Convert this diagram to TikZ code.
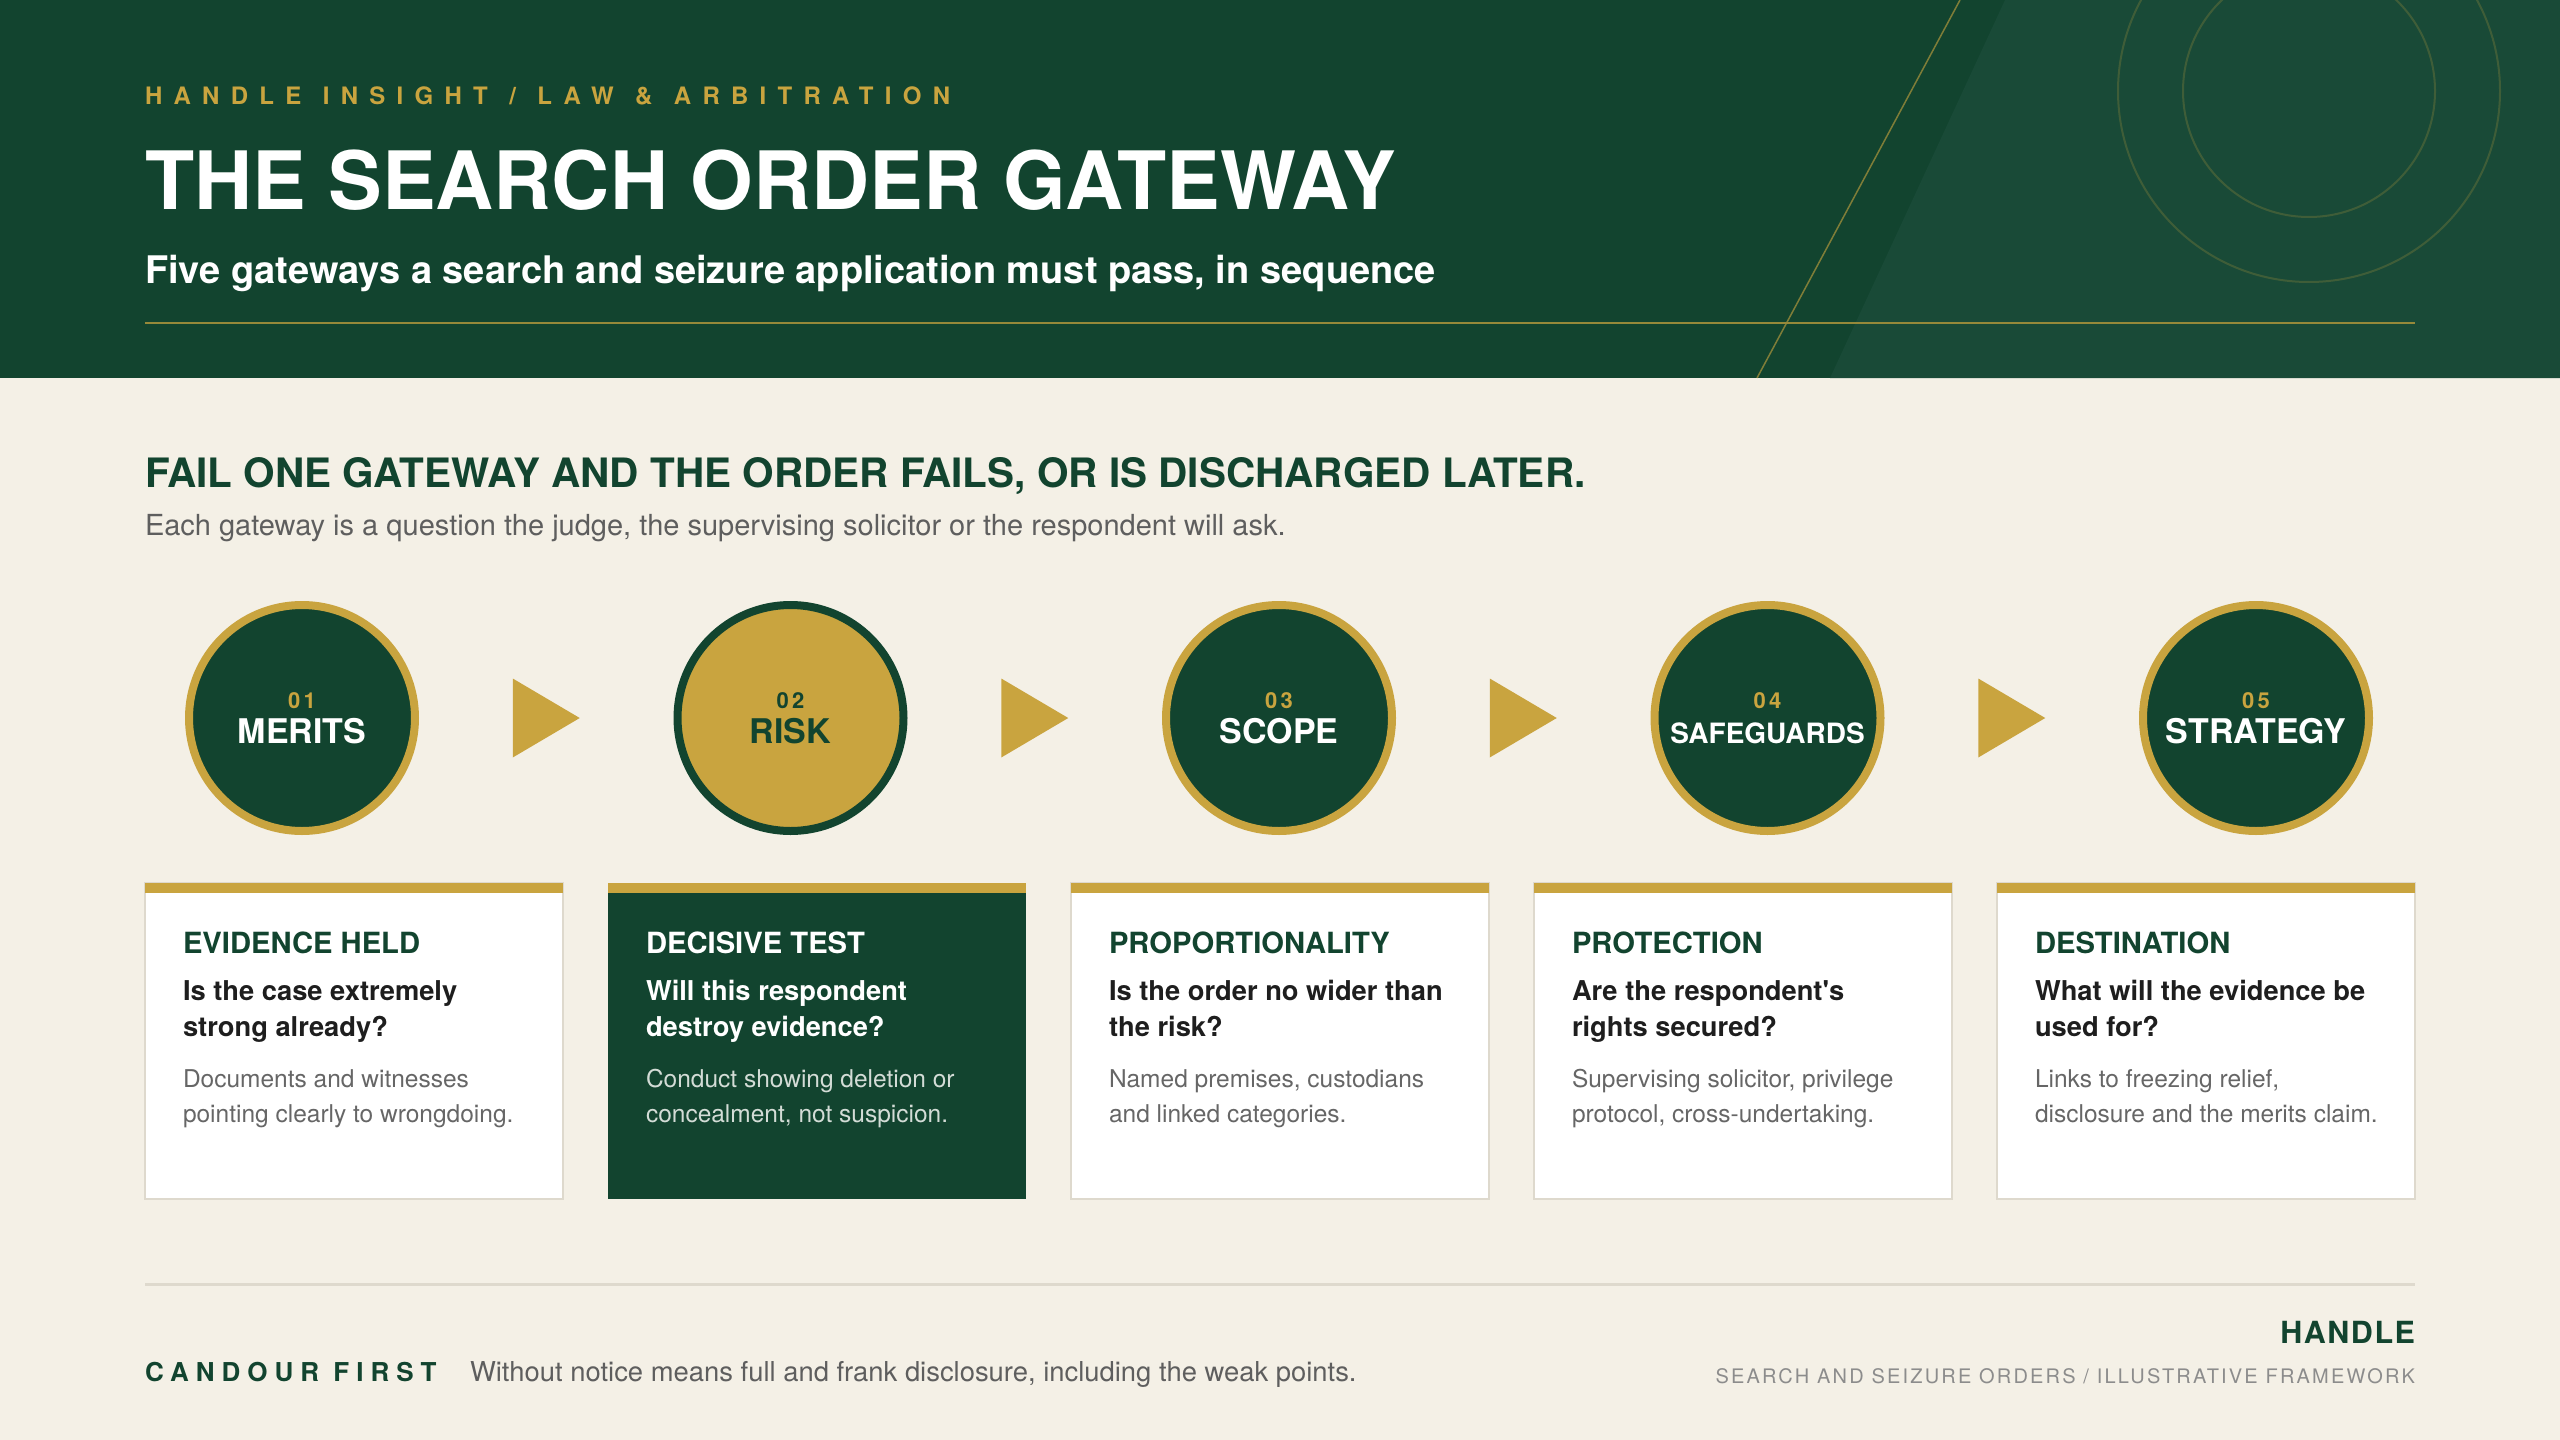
\documentclass[tikz,border=0pt]{standalone}
\usepackage{fontspec}
\setmainfont{TeX Gyre Heros}
\usetikzlibrary{calc}
\definecolor{hdr}{HTML}{12442F}
\definecolor{hdrB}{HTML}{194A37}
\definecolor{gold}{HTML}{C9A43F}
\definecolor{cream}{HTML}{F4F0E6}
\definecolor{gborder}{HTML}{DED9CD}
\definecolor{ink}{HTML}{1E1E1E}
\definecolor{muted}{HTML}{666666}
\definecolor{greyB}{HTML}{5E5E5E}
\definecolor{greyC}{HTML}{8C8C8C}
\definecolor{paleg}{HTML}{D3DCD6}
\newcommand\fs[2]{\fontsize{#1}{#2}\selectfont}
\newcommand\sq{\XeTeXglyph\XeTeXcharglyph"0027\relax}
\newcommand\tsp{\ \hspace{3.5pt}}
\tikzset{
  txt/.style={inner sep=0pt, outer sep=0pt},
  tagtext/.style={txt, anchor=base west, text=gold, font=\fs{24}{29}\bfseries\addfontfeatures{LetterSpace=47}},
  titletext/.style={txt, anchor=base west, text=white, font=\fs{80.5}{92}\bfseries},
  subtext/.style={txt, anchor=base west, text=white, font=\fs{38}{44}\bfseries},
  headtext/.style={txt, anchor=base west, text=hdr, font=\fs{40.5}{46}\bfseries},
  leadtext/.style={txt, anchor=base west, text=greyB, font=\fs{29}{34}},
  gateD/.style={circle, minimum size=226, fill=hdr, draw=gold, line width=8, outer sep=0},
  gateG/.style={circle, minimum size=226, fill=gold, draw=hdr, line width=8, outer sep=0},
  numD/.style={txt, anchor=base, text=gold, font=\fs{22}{26}\bfseries\addfontfeatures{LetterSpace=15}},
  numG/.style={txt, anchor=base, text=hdr, font=\fs{22}{26}\bfseries\addfontfeatures{LetterSpace=15}},
  nameD/.style={txt, anchor=base, text=white, font=\fs{34}{40}\bfseries},
  nameG/.style={txt, anchor=base, text=hdr, font=\fs{34}{40}\bfseries},
  cardL/.style={rectangle, anchor=north west, minimum width=418, minimum height=316, fill=white, draw=gborder, line width=2, inner sep=0, outer sep=0},
  cardD/.style={rectangle, anchor=north west, minimum width=418, minimum height=316, fill=hdr, inner sep=0, outer sep=0},
  ctitleL/.style={txt, anchor=base west, text=hdr, font=\fs{29.2}{34}\bfseries},
  ctitleD/.style={txt, anchor=base west, text=white, font=\fs{29.2}{34}\bfseries},
  cqL/.style={txt, anchor=base west, text=ink, font=\fs{27.3}{32}\bfseries},
  cqD/.style={txt, anchor=base west, text=white, font=\fs{27.3}{32}\bfseries},
  cdL/.style={txt, anchor=base west, text=muted, font=\fs{24.5}{29}},
  cdD/.style={txt, anchor=base west, text=paleg, font=\fs{24.5}{29}},
  candour/.style={txt, anchor=base west, text=hdr, font=\fs{26}{30}\bfseries\addfontfeatures{LetterSpace=27}},
  foottext/.style={txt, anchor=base west, text=greyB, font=\fs{27.4}{32}},
  brand/.style={txt, anchor=base east, text=hdr, font=\fs{30.5}{36}\bfseries\addfontfeatures{LetterSpace=5}},
  brandsub/.style={txt, anchor=base east, text=greyC, font=\fs{20}{24}\addfontfeatures{LetterSpace=11}},
  arrowtip/.style={fill=gold}
}
\newcommand\gatecircle[5]{%
  \node[gate#3] (c#1) at (#2,718) {};
  \node[num#3] (c#1n) at (#2,708) {#4};
  \node[name#3] (c#1m) at (#2,743) {#5};
}
\newcommand\gatecard[8]{%
  \node[card#3] (k#1) at (#2,883) {};
  \fill[gold] (k#1.north west) rectangle ++(418,10);
  \node[ctitle#3] (k#1t) at ([shift={(38,70)}]k#1.north west) {#4};
  \node[cq#3] (k#1q) at ([shift={(38,117)}]k#1.north west) {#5};
  \node[cq#3] (k#1r) at ([shift={(38,153)}]k#1.north west) {#6};
  \node[cd#3] (k#1d) at ([shift={(38,204)}]k#1.north west) {#7};
  \node[cd#3] (k#1e) at ([shift={(38,239)}]k#1.north west) {#8};
}
\begin{document}
\begin{tikzpicture}[x=1pt,y=-1pt]
\useasboundingbox (0,0) rectangle (2560,1440);
\fill[cream] (0,0) rectangle (2560,1440);
% header
\fill[hdr] (0,0) rectangle (2560,378);
\begin{scope}
  \clip (0,0) rectangle (2560,378);
  \fill[hdrB] (2005,0) -- (1830,378) -- (2560,378) -- (2560,0) -- cycle;
  \draw[gold, opacity=0.6, line width=1.5] (1960,0) -- (1757,378);
  \draw[gold, opacity=0.22, line width=2] (2309,91) circle (126);
  \draw[gold, opacity=0.22, line width=2] (2309,91) circle (191);
\end{scope}
\draw[gold!72!hdr, line width=2.5] (145,323) -- (2415,323);
\node[tagtext] (tag) at (145,104) {HANDLE\tsp INSIGHT\tsp /\tsp LAW\tsp \&\tsp ARBITRATION};
\node[titletext] (title) at (145,209) {THE SEARCH ORDER GATEWAY};
\node[subtext] (subtitle) at (145,283) {Five gateways a search and seizure application must pass, in sequence};
% section heading
\node[headtext] (head) at (145,487) {FAIL ONE GATEWAY AND THE ORDER FAILS, OR IS DISCHARGED LATER.};
\node[leadtext] (lead) at (145,535) {Each gateway is a question the judge, the supervising solicitor or the respondent will ask.};
% gateways
\gatecircle{1}{302}{D}{01}{MERITS}
\gatecircle{2}{790.5}{G}{02}{RISK}
\gatecircle{3}{1279}{D}{03}{SCOPE}
\gatecircle{4}{1767.5}{D}{04}{\fs{28}{32}SAFEGUARDS}
\gatecircle{5}{2256}{D}{05}{STRATEGY}
\foreach \a/\b in {1/2,2/3,3/4,4/5}{
  \fill[arrowtip] ($(c\a)!0.5!(c\b)+(-33.5,-39.5)$) -- ++(67,39.5) -- ++(-67,39.5) -- cycle;
}
% cards
\gatecard{1}{145}{L}{EVIDENCE HELD}{Is the case extremely}{strong already?}{Documents and witnesses}{pointing clearly to wrongdoing.}
\gatecard{2}{608}{D}{DECISIVE TEST}{Will this respondent}{destroy evidence?}{Conduct showing deletion or}{concealment, not suspicion.}
\gatecard{3}{1071}{L}{PROPORTIONALITY}{Is the order no wider than}{the risk?}{Named premises, custodians}{and linked categories.}
\gatecard{4}{1534}{L}{PROTECTION}{Are the respondent\sq s}{rights secured?}{Supervising solicitor, privilege}{protocol, cross-undertaking.}
\gatecard{5}{1997}{L}{DESTINATION}{What will the evidence be}{used for?}{Links to freezing relief,}{disclosure and the merits claim.}
% footer
\draw[gborder, line width=3] (145,1284) -- (2415,1284);
\node[candour] (cand) at (145,1381) {CANDOUR FIRST};
\node[foottext] (foot) at (470,1381) {Without notice means full and frank disclosure, including the weak points.};
\node[brand] (brand) at (2415,1343) {HANDLE};
\node[brandsub] (brandsub) at (2415,1383) {SEARCH AND SEIZURE ORDERS / ILLUSTRATIVE FRAMEWORK};
\end{tikzpicture}
\end{document}
